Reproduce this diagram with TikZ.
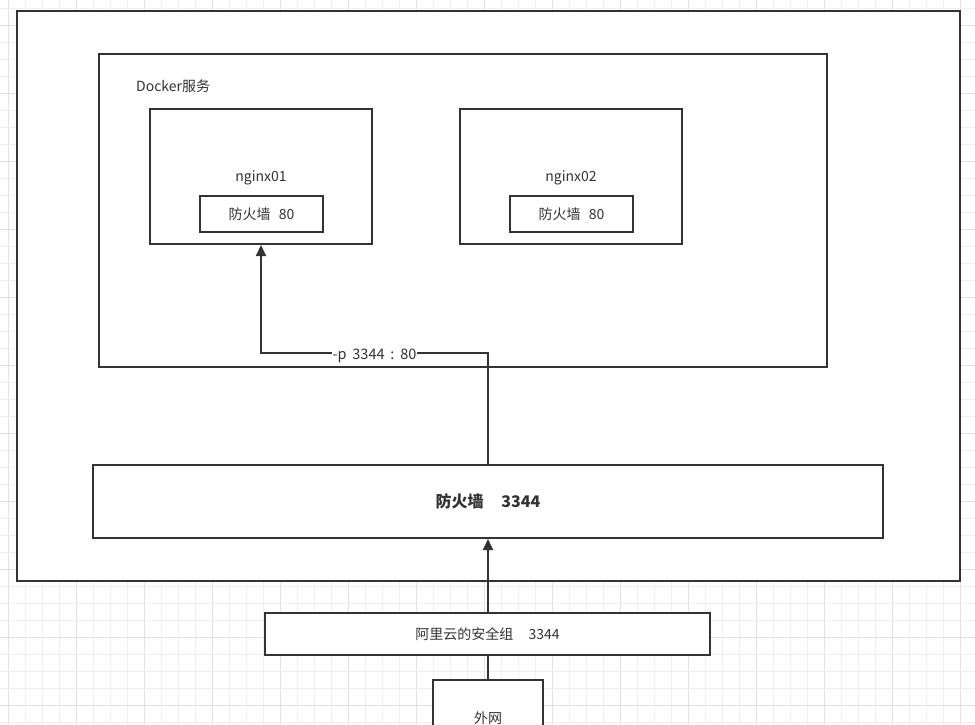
\documentclass[tikz,border=0pt]{standalone}
\usepackage{fontspec}
\setmainfont{Noto Sans CJK SC}
\usetikzlibrary{arrows.meta}
\definecolor{ink}{HTML}{333333}
\definecolor{gridminor}{HTML}{EFEFEF}
\definecolor{gridmajor}{HTML}{E2E2E2}
\tikzset{
  box/.style={draw=ink, line width=2pt, fill=white, rectangle, inner sep=0pt},
  lbl/.style={text=ink, font=\fontsize{14}{16}\selectfont, inner sep=0pt},
  conn/.style={draw=ink, line width=2pt},
  arr/.style={conn, -{Triangle[width=10pt,length=11pt]}},
}
\begin{document}
\begin{tikzpicture}[x=1pt,y=-1pt]
\useasboundingbox (0,0) rectangle (975,724);
\clip (0,0) rectangle (975,724);
% grid
\foreach \i in {-1,...,57} {
  \pgfmathtruncatemacro\m{mod(\i+4,4)}
  \ifnum\m=0
    \draw[gridmajor, line width=1pt] ({8.3+17*\i},0) -- ({8.3+17*\i},724);
  \else
    \draw[gridminor, line width=1pt] ({8.3+17*\i},0) -- ({8.3+17*\i},724);
  \fi
}
\foreach \j in {0,...,43} {
  \pgfmathtruncatemacro\m{mod(\j+3,4)}
  \ifnum\m=0
    \draw[gridmajor, line width=1pt] (0,{8.3+17*\j}) -- (975,{8.3+17*\j});
  \else
    \draw[gridminor, line width=1pt] (0,{8.3+17*\j}) -- (975,{8.3+17*\j});
  \fi
}
% boxes
\node[box, minimum width=943pt, minimum height=570pt] (outer) at (488.5,296) {};
\node[box, minimum width=728pt, minimum height=313pt] (docker) at (463,210.5) {};
\node[lbl, anchor=west] (dockerlbl) at (136,86) {Docker服务};
\node[box, minimum width=222pt, minimum height=135pt] (nginx01) at (261,176.5) {};
\node[lbl] (n1lbl) at (261,178) {nginx01};
\node[box, lbl, minimum width=123pt, minimum height=36pt, draw=ink, line width=2pt] (fw01) at (261.5,214) {防火墙\hspace{0.6em}80};
\node[box, minimum width=222pt, minimum height=135pt] (nginx02) at (571,176.5) {};
\node[lbl] (n2lbl) at (571,178) {nginx02};
\node[box, lbl, minimum width=123pt, minimum height=36pt, draw=ink, line width=2pt] (fw02) at (571.5,214) {防火墙\hspace{0.6em}80};
\node[box, minimum width=790pt, minimum height=73pt, text=ink, font=\fontsize{16}{18}\selectfont\bfseries] (firewall) at (488,501.5) {防火墙\hspace{1.1em}3344};
\node[box, minimum width=445pt, minimum height=42pt, text=ink, font=\fontsize{14}{16}\selectfont] (aliyun) at (487.5,634) {阿里云的安全组\hspace{1.1em}3344};
\node[box, minimum width=110pt, minimum height=76pt, text=ink, font=\fontsize{14}{16}\selectfont] (wan) at (488,718) {外网};
% connectors
\coordinate (turnR) at (488,353);
\coordinate (turnL) at (261,353);
\draw[arr] (firewall.north) -- (turnR) -- node[fill=white, text=ink, font=\fontsize{14.5}{16}\selectfont, inner sep=1pt, yshift=-3pt] (pmap) {-p\hspace{0.4em}3344\hspace{0.4em}:\hspace{0.4em}80} (turnL) -- (nginx01.south);
\draw[arr] (aliyun.north -| firewall.south) -- (firewall.south);
\draw[conn] (wan.north) -- (wan.north |- aliyun.south);
\end{tikzpicture}
\end{document}
